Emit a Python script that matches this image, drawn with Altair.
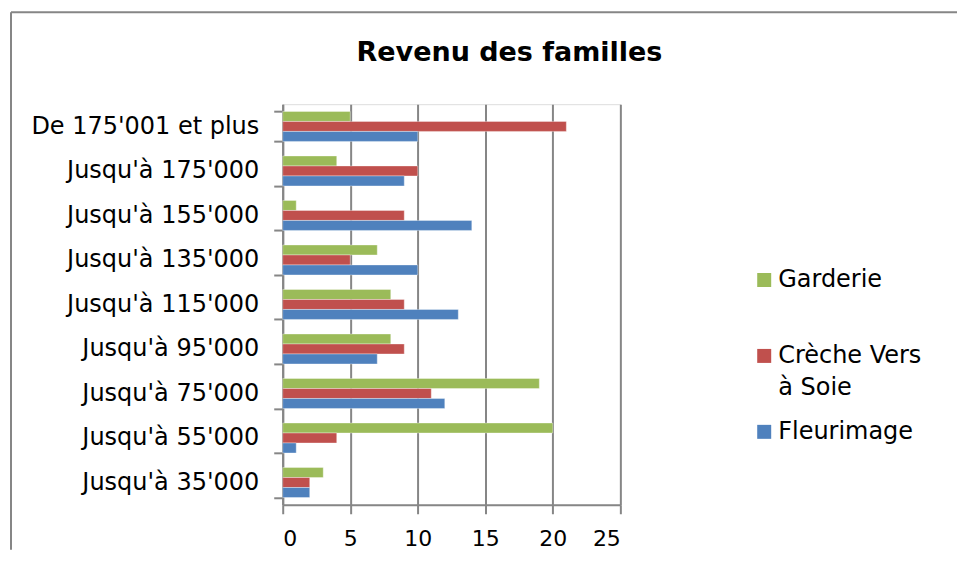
import altair as alt
import pandas as pd

categories = ["De 175'001 et plus", "Jusqu'à 175'000", "Jusqu'à 155'000",
              "Jusqu'à 135'000", "Jusqu'à 115'000", "Jusqu'à 95'000",
              "Jusqu'à 75'000", "Jusqu'à 55'000", "Jusqu'à 35'000"]
series = ["Garderie", "Crèche Vers à Soie", "Fleurimage"]
garderie = [5, 4, 1, 7, 8, 8, 19, 20, 3]
creche = [21, 10, 9, 5, 9, 9, 11, 4, 2]
fleurimage = [10, 9, 14, 10, 13, 7, 12, 1, 2]
colors = ["#9BBB59", "#C0504D", "#4F81BD"]
x_ticks = [0, 5, 10, 15, 20, 25]
title_text = "Revenu des familles"

FONT = "DejaVu Sans"
GRAY = "#868686"

df = pd.DataFrame({
    "cat": categories * 3,
    "series": [s for s in series for _ in categories],
    "value": garderie + creche + fleurimage,
})

bars = alt.Chart(df).mark_bar(stroke="white", strokeOpacity=0.35, strokeWidth=1).encode(
    x=alt.X("value:Q", title=None,
            scale=alt.Scale(domain=[0, 25], nice=False),
            axis=alt.Axis(values=x_ticks, tickSize=9, tickWidth=2, tickColor=GRAY,
                          domainColor=GRAY, domainWidth=2, grid=True, gridColor=GRAY,
                          gridWidth=2, labelFontSize=22, labelFont=FONT,
                          labelColor="black", labelPadding=15)),
    y=alt.Y("cat:N", sort=categories, title=None,
            scale=alt.Scale(paddingInner=0.327, paddingOuter=0.1635),
            axis=alt.Axis(tickBand="extent", tickSize=9, tickWidth=2, tickColor=GRAY,
                          domainColor=GRAY, domainWidth=2, grid=False,
                          labelFontSize=24, labelFont=FONT, labelColor="black",
                          labelPadding=15, labelLimit=400)),
    yOffset=alt.YOffset("series:N", sort=series,
                        scale=alt.Scale(paddingInner=0, paddingOuter=0)),
    color=alt.Color("series:N", sort=series,
                    scale=alt.Scale(domain=series, range=colors),
                    legend=alt.Legend(orient="none", legendX=470, legendY=164,
                                      title=None, symbolType="square", symbolSize=196,
                                      symbolStrokeWidth=0, labelFontSize=24,
                                      labelFont=FONT, labelColor="black",
                                      labelLimit=400, rowPadding=20, padding=0,
                                      labelOffset=2,
                                      labelExpr="datum.label == 'Crèche Vers à Soie' ? ['Crèche Vers', 'à Soie'] : [datum.label, '']")),
)

one = pd.DataFrame({"k": [0]})
frame_top = alt.Chart(one).mark_rule(color=GRAY, strokeWidth=2).encode(
    x=alt.value(-272), x2=alt.value(675), y=alt.value(-92))
frame_left = alt.Chart(one).mark_rule(color=GRAY, strokeWidth=2).encode(
    x=alt.value(-272), y=alt.value(-92), y2=alt.value(446))
title = alt.Chart(one).mark_text(text=title_text, fontSize=27, fontWeight="bold",
                                 font=FONT, align="center", baseline="middle",
                                 color="black").encode(
    x=alt.value(227), y=alt.value(-51))

chart = alt.layer(frame_top, frame_left, title, bars).properties(
    width=338, height=401,
    padding={"left": 2, "top": 3, "right": 0, "bottom": 0},
).configure_view(strokeOpacity=0).configure(
    style={"guide-label": {"lineHeight": 32}}
)

chart.save("out.html", embed_options={"renderer": "svg", "actions": False})
